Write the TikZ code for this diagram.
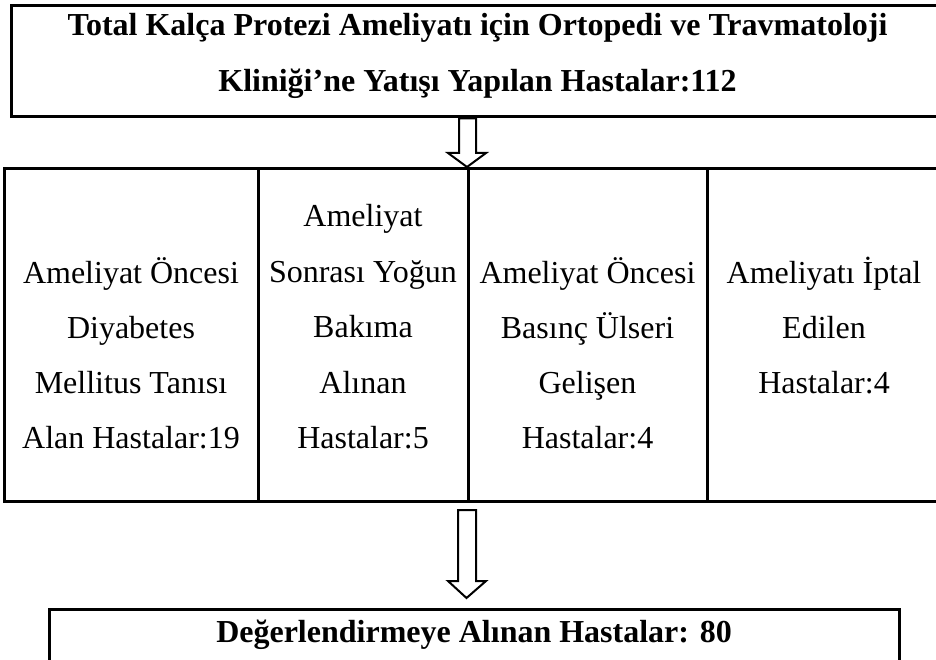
\documentclass[tikz,border=0pt]{standalone}
\usepackage{fontspec}
\setmainfont{Liberation Serif}
\begin{document}
\begin{tikzpicture}[x=1pt,y=-1pt,
  frame/.style={draw,line width=3pt,inner sep=0pt,outer sep=0pt,anchor=north west},
  divider/.style={line width=3pt},
  txt/.style={anchor=base,inner sep=0pt,font=\fontsize{32}{40}\selectfont},
  btxt/.style={txt,font=\fontsize{32}{40}\selectfont\bfseries},
  blockarrow/.style={draw,line width=2pt,fill=white,line join=miter}]
\useasboundingbox (0,0) rectangle (936,660);
% top box (its right side lies beyond the picture's edge)
\node[frame,minimum width=950pt,minimum height=111.5pt] (top) at (11,5.5) {};
\node[btxt] (t1) at (477.5,36) {Total Kalça Protezi Ameliyatı için Ortopedi ve Travmatoloji};
\node[btxt] (t2) at (477.5,92) {Kliniği’ne Yatışı Yapılan Hastalar:112};
% table (its right side lies beyond the picture's edge)
\node[frame,minimum width=955pt,minimum height=333pt] (tab) at (4.5,168.5) {};
\coordinate (d1t) at (258,168.5); \coordinate (d1b) at (258,501.5);
\coordinate (d2t) at (468,168.5); \coordinate (d2b) at (468,501.5);
\coordinate (d3t) at (707,168.5); \coordinate (d3b) at (707,501.5);
\draw[divider] (d1t) -- (d1b);
\draw[divider] (d2t) -- (d2b);
\draw[divider] (d3t) -- (d3b);
% column 1
\node[txt] (c1a) at (131,283) {Ameliyat Öncesi};
\node[txt] (c1b) at (131,338) {Diyabetes};
\node[txt] (c1c) at (131,393) {Mellitus Tanısı};
\node[txt] (c1d) at (131,448) {Alan Hastalar:19};
% column 2
\node[txt] (c2a) at (363,227) {Ameliyat};
\node[txt] (c2b) at (363,282) {Sonrası Yoğun};
\node[txt] (c2c) at (363,337) {Bakıma};
\node[txt] (c2d) at (363,393) {Alınan};
\node[txt] (c2e) at (363,448) {Hastalar:5};
% column 3
\node[txt] (c3a) at (587.5,283) {Ameliyat Öncesi};
\node[txt] (c3b) at (587.5,338) {Basınç Ülseri};
\node[txt] (c3c) at (587.5,393) {Gelişen};
\node[txt] (c3d) at (587.5,448) {Hastalar:4};
% column 4
\node[txt] (c4a) at (824,283) {Ameliyatı İptal};
\node[txt] (c4b) at (824,338) {Edilen};
\node[txt] (c4c) at (824,393) {Hastalar:4};
% arrows
\draw[blockarrow] (459,118.5) -- (476,118.5) -- (476,153) -- (486,153) -- (467,167) -- (448,153) -- (459,153) -- cycle;
\draw[blockarrow] (458,510) -- (476,510) -- (476,581) -- (486,581) -- (466.5,598) -- (448,581) -- (458,581) -- cycle;
% bottom box
\node[frame,minimum width=850pt,minimum height=80pt] (bot) at (49,609) {};
\node[btxt] (b1) at (474,642) {Değerlendirmeye Alınan Hastalar: 80};
\end{tikzpicture}
\end{document}
